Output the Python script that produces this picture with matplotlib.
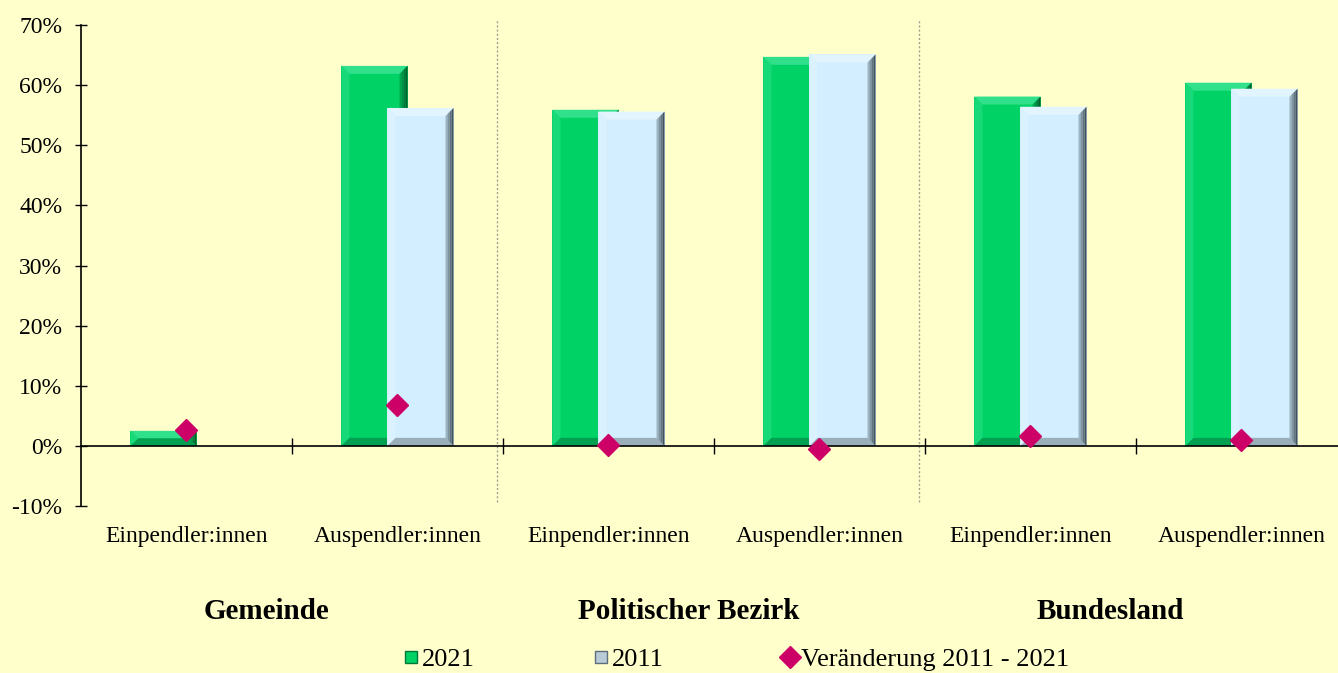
import numpy as np
import matplotlib
matplotlib.use('Agg')
import matplotlib.pyplot as plt
from matplotlib.patches import Polygon
from matplotlib.lines import Line2D
from matplotlib.ticker import FuncFormatter

# data
categories = ['Einpendler:innen', 'Auspendler:innen', 'Einpendler:innen',
              'Auspendler:innen', 'Einpendler:innen', 'Auspendler:innen']
groups = ['Gemeinde', 'Politischer Bezirk', 'Bundesland']
values_2021 = [2.5, 63.2, 55.9, 64.7, 58.1, 60.4]
values_2011 = [0.0, 56.2, 55.6, 65.1, 56.4, 59.4]
change = [2.7, 6.8, 0.2, -0.5, 1.6, 1.0]
series_labels = ['2021', '2011', 'Veränderung 2011 - 2021']

BG = '#FFFFCC'
GREEN = '#00D266'
BLUE = '#D2EEFF'
MAGENTA = '#CC0066'

plt.rcParams['font.family'] = ['Liberation Serif', 'DejaVu Serif']

fig = plt.figure(figsize=(13.38, 6.73), dpi=100, facecolor=BG)
ax = fig.add_axes([81 / 1338, 167 / 673, 1266 / 1338, 481 / 673])
ax.set_facecolor(BG)

x = np.arange(len(categories))
width = 0.313
offset = 0.109
ax.set_xlim(-0.5, len(categories) - 0.5)
ax.set_ylim(-10, 70)


def bevel_bar(xc, h, face, light, dark, shade, z):
    # bar with a soft bevelled frame, bevel about 8 px
    if h <= 0:
        return
    x0, x1 = xc - width / 2, xc + width / 2
    bx = 8 / 211
    by = min(8 / 6.01, h / 2)
    ax.add_patch(Polygon([(x0, 0), (x1, 0), (x1, h), (x0, h)], closed=True,
                         facecolor=face, edgecolor='none', zorder=z))
    ix0, ix1, iy0, iy1 = x0 + bx, x1 - bx, by, h - by
    kw = dict(edgecolor='none', zorder=z + 0.1)
    ax.add_patch(Polygon([(x0, h), (x1, h), (ix1, iy1), (ix0, iy1)],
                         facecolor=light, **kw))
    ax.add_patch(Polygon([(x0, 0), (x0, h), (ix0, iy1), (ix0, iy0)],
                         facecolor=light, alpha=0.5, **kw))
    ax.add_patch(Polygon([(x0, 0), (x1, 0), (ix1, iy0), (ix0, iy0)],
                         facecolor=shade, **kw))
    # right edge as a few strips getting darker to the outside
    n = 4
    for k in range(n):
        a = ix1 + bx * k / n
        b = ix1 + bx * (k + 1) / n
        ya0 = iy0 * (1 - k / n)
        ya1 = h - by * (1 - k / n)
        yb0 = iy0 * (1 - (k + 1) / n)
        yb1 = h - by * (1 - (k + 1) / n)
        ax.add_patch(Polygon([(a, ya0), (b, yb0), (b, yb1), (a, ya1)],
                             facecolor=dark, alpha=0.35 + 0.2 * k, **kw))


for i in x:
    bevel_bar(i - offset, values_2021[i], GREEN, '#30E08A', '#005A2A', '#00A050', 2)
    bevel_bar(i + offset, values_2011[i], BLUE, '#E2F5FF', '#3C4A52', '#9AAEBA', 3)

ax.plot(x, change, linestyle='none', marker='D', markersize=11,
        color=MAGENTA, zorder=5)

# group separators
for sep in [1.5, 3.5]:
    ax.plot([sep - 0.028, sep - 0.028], [-9.4, 70.9], color='#A0A090',
            linestyle=(0, (1.5, 1.5)), linewidth=1, zorder=1, clip_on=False)

for s in ['top', 'right']:
    ax.spines[s].set_visible(False)
ax.spines['bottom'].set_position(('data', 0))
ax.spines['bottom'].set_zorder(4)
ax.spines['left'].set_linewidth(1.2)
ax.spines['bottom'].set_linewidth(1.2)

ax.set_yticks(np.arange(-10, 71, 10))
ax.yaxis.set_major_formatter(FuncFormatter(lambda v, p: f'{v:.0f}%'))
ax.tick_params(axis='y', direction='inout', length=9, width=1, labelsize=17, pad=9)
ax.set_xticks(np.arange(0.5, len(categories) - 0.5, 1))
ax.set_xticklabels([])
ax.tick_params(axis='x', direction='inout', length=11, width=1)

for i, lab in enumerate(categories):
    ax.text(i, -0.064, lab, transform=ax.get_xaxis_transform(),
            ha='center', va='center', fontsize=17)
for j, g in enumerate(groups):
    ax.text(2 * j + 0.38, -0.22, g, transform=ax.get_xaxis_transform(),
            ha='center', va='center', fontsize=21, fontweight='bold')

handles = [
    Line2D([], [], linestyle='none', marker='s', markersize=9,
           markerfacecolor=GREEN, markeredgecolor='#00783A'),
    Line2D([], [], linestyle='none', marker='s', markersize=9,
           markerfacecolor='#B8CCD8', markeredgecolor='#5E6E78'),
    Line2D([], [], linestyle='none', marker='D', markersize=11, color=MAGENTA),
]
fig.legend(handles, series_labels, loc='center', bbox_to_anchor=(0.55, 0.02),
           ncol=3, frameon=False, fontsize=19, handlelength=0.6,
           handletextpad=0.1, columnspacing=4.5)

fig.savefig('out.png', dpi=100, facecolor=BG)
